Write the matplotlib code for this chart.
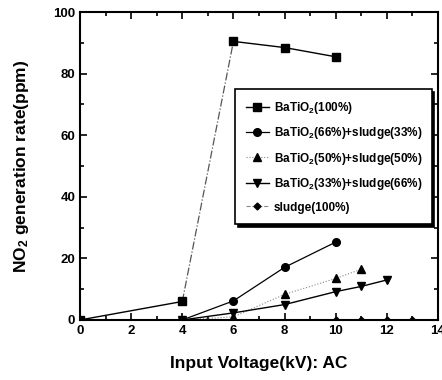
import matplotlib
matplotlib.use("Agg")
import matplotlib.pyplot as plt
from matplotlib.ticker import MultipleLocator

plt.rcParams['font.family'] = ['Liberation Sans', 'DejaVu Sans']
plt.rcParams['font.weight'] = 'bold'
plt.rcParams['mathtext.fontset'] = 'custom'
plt.rcParams['mathtext.bf'] = 'Liberation Sans:bold'
plt.rcParams['mathtext.rm'] = 'Liberation Sans:bold'
plt.rcParams['mathtext.default'] = 'bf'

x_b100 = [0, 4, 6, 8, 10]
y_b100 = [0, 6, 90.5, 88.5, 85.5]

x_b66 = [4, 6, 8, 10]
y_b66 = [0, 6.2, 17.1, 25.3]

x_b50 = [4, 6, 8, 10, 11]
y_b50 = [0, 1.0, 8.3, 13.5, 16.5]

x_b33 = [4, 6, 8, 10, 11, 12]
y_b33 = [0, 2.3, 5.0, 9.2, 10.9, 13.0]

x_sl = [10, 11, 12, 13]
y_sl = [0, 0, 0, 0]

labels = ['BaTiO$_2$(100%)', 'BaTiO$_2$(66%)+sludge(33%)', 'BaTiO$_2$(50%)+sludge(50%)',
          'BaTiO$_2$(33%)+sludge(66%)', 'sludge(100%)']

fig = plt.figure(figsize=(4.42, 3.8), dpi=100)
ax = fig.add_axes([0.181, 0.158, 0.810, 0.810])

# BaTiO2(100%): solid segments with dash-dot steep rise
ax.plot(x_b100[:2], y_b100[:2], color='black', lw=1.0)
ax.plot(x_b100[1:3], y_b100[1:3], color='#555555', lw=0.9, ls='-.')
ax.plot(x_b100[2:], y_b100[2:], color='black', lw=1.0)
ax.plot(x_b100, y_b100, ls='none', marker='s', ms=5.5, color='black')
h1, = ax.plot([], [], color='black', lw=1.0, marker='s', ms=5.5, label=labels[0])

h2, = ax.plot(x_b66, y_b66, color='black', lw=0.9, marker='o', ms=5.5, label=labels[1])
h3, = ax.plot(x_b50, y_b50, color='#888888', lw=0.8, ls=':', marker='^', ms=5.5,
              mfc='black', mec='black', label=labels[2])
h4, = ax.plot(x_b33, y_b33, color='black', lw=1.0, marker='v', ms=6, label=labels[3])
h5, = ax.plot(x_sl, y_sl, color='#888888', lw=0.8, ls='--', marker='D', ms=3.5,
              mfc='black', mec='black', label=labels[4])

ax.set_xlim(0, 14)
ax.set_ylim(0, 100)
ax.xaxis.set_major_locator(MultipleLocator(2))
ax.xaxis.set_minor_locator(MultipleLocator(1))
ax.yaxis.set_major_locator(MultipleLocator(20))
ax.yaxis.set_minor_locator(MultipleLocator(10))
ax.tick_params(which='both', direction='in', top=True, right=True, width=1.2, labelsize=9.5)
ax.tick_params(which='major', length=5)
ax.tick_params(which='minor', length=3)
for s in ax.spines.values():
    s.set_linewidth(1.5)

ax.set_xlabel('Input Voltage(kV): AC', fontsize=12.5, fontweight='bold', labelpad=14)
ax.set_ylabel('NO$_2$ generation rate(ppm)', fontsize=12.5, fontweight='bold', labelpad=16)

leg = ax.legend(handles=[h1, h2, h3, h4, h5], loc='upper left',
                bbox_to_anchor=(0.433, 0.315, 0.55, 0.435), mode='expand',
                fontsize=8.5, frameon=True, fancybox=False,
                shadow={'color': 'black', 'alpha': 1.0, 'ox': 1.8, 'oy': -1.8},
                handlelength=2.0, labelspacing=0.8, borderpad=0.9, handletextpad=0.4,
                borderaxespad=0)
leg.get_frame().set_edgecolor('black')
leg.get_frame().set_linewidth(1.2)

fig.savefig('out.png', dpi=100)
